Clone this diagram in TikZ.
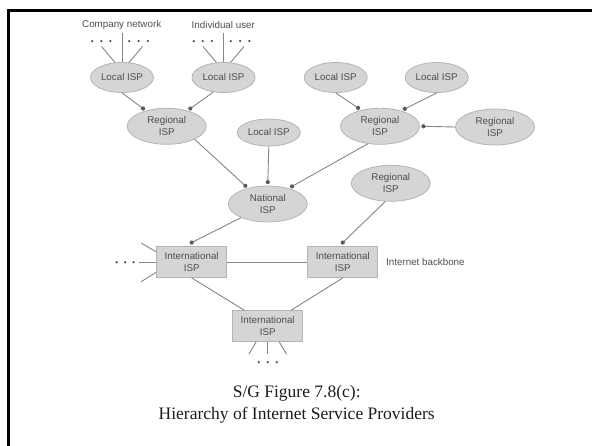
\documentclass[tikz,border=0pt]{standalone}
\usepackage{fontspec}
\setmainfont{Liberation Serif}
\newfontfamily\labelfont{Liberation Sans}
\usetikzlibrary{shapes.geometric,calc}

\definecolor{nodefill}{HTML}{D5D5D5}
\definecolor{nodeedge}{HTML}{B4B4B4}
\definecolor{linkgray}{HTML}{858585}
\definecolor{jointgray}{HTML}{5C5C5C}
\definecolor{labeltext}{HTML}{4E4E4E}
\definecolor{captiontext}{HTML}{1C1C1C}

\begin{document}
\begin{tikzpicture}[x=1pt,y=-1pt,
  lbl/.style={font=\labelfont\fontsize{9.8}{12}\selectfont, text=labeltext},
  isp/.style={ellipse, draw=nodeedge, line width=0.8pt, fill=nodefill,
    minimum width=79pt, minimum height=36pt, inner sep=0pt, align=center, lbl},
  localisp/.style={isp, minimum width=63pt, minimum height=30pt},
  intlisp/.style={rectangle, draw=nodeedge, line width=0.9pt, fill=nodefill,
    minimum width=70pt, minimum height=31pt, inner sep=0pt, align=center, lbl},
  link/.style={draw=linkgray, line width=0.9pt},
  joint/.style={fill=jointgray},
  ellip/.style={fill=labeltext},
  caption/.style={font=\fontsize{17.5}{22}\selectfont, text=captiontext, anchor=base, inner sep=0pt}
  ]
\useasboundingbox (0,0) rectangle (592,446);

% page frame
\draw[line width=3pt, line join=miter] (8,450) -- (8,10.7) -- (596,10.7);

% ---- nodes ----
\node[localisp] (L1) at (122,77.5) {Local ISP};
\node[localisp] (L2) at (223.5,77.5) {Local ISP};
\node[localisp] (L3) at (335.7,77.5) {Local ISP};
\node[localisp] (L4) at (436.7,77.5) {Local ISP};

\node[isp] (R1) at (166.7,126.3) {Regional\\ISP};
\node[localisp, minimum height=27pt] (LM) at (268.8,132.5) {Local ISP};
\node[isp] (R2) at (380,126.3) {Regional\\ISP};
\node[isp] (R3) at (495,127) {Regional\\ISP};

\node[isp] (N) at (267.8,204) {National\\ISP};
\node[isp] (R4) at (390.8,183.3) {Regional\\ISP};

\node[intlisp] (I1) at (191.7,262) {International\\ISP};
\node[intlisp] (I2) at (342.8,262) {International\\ISP};
\node[intlisp, minimum height=30.5pt] (I3) at (267.7,326) {International\\ISP};

\node[lbl, anchor=west, inner sep=0pt] (bb) at (386,262) {Internet backbone};
\node[lbl, inner sep=0pt] (cn) at (121.7,25) {Company network};
\node[lbl, inner sep=0pt] (iu) at (223.3,25) {Individual user};

\node[caption] (cap1) at (296.7,398) {S/G Figure 7.8(c):};
\node[caption] (cap2) at (296.7,420) {Hierarchy of Internet Service Providers};

% ---- attachment points, just outside the lower node ----
\coordinate (j11) at ($(R1.143)!-3.5pt!(R1.center)$);
\coordinate (j12) at ($(R1.37.6)!-3.5pt!(R1.center)$);
\coordinate (j21) at ($(R2.140.3)!-3.5pt!(R2.center)$);
\coordinate (j22) at ($(R2.35)!-3.5pt!(R2.center)$);
\coordinate (j23) at ($(R2.east)!-3.5pt!(R2.center)$);
\coordinate (jn1) at ($(N.141)!-3.5pt!(N.center)$);
\coordinate (jn2) at ($(N.north)!-3.5pt!(N.center)$);
\coordinate (jn3) at ($(N.36)!-3.5pt!(N.center)$);
\coordinate (ji1) at ($(I1.north)!-3.5pt!(I1.center)$);
\coordinate (ji2) at ($(I2.north)!-3.5pt!(I2.center)$);

% ---- connectors ----
\draw[link] (L1.south) -- (j11);
\draw[link] (L2.-125) -- (j12);
\draw[link] (L3.south) -- (j21);
\draw[link] (L4.south) -- (j22);
\draw[link] (R3.west) -- (j23);
\draw[link] (R1.-25) -- (jn1);
\draw[link] (LM.south) -- (jn2);
\draw[link] (R2.-125) -- (jn3);
\draw[link] (N.-153) -- (ji1);
\draw[link] (R4.-107) -- (ji2);
\draw[link] (I1.east) -- (I2.west);
\draw[link] (I1.south) -- (I3.146);
\draw[link] (I2.south) -- (I3.34);

\foreach \j in {j11,j12,j21,j22,j23,jn1,jn2,jn3,ji1,ji2}
  \fill[joint] (\j) circle (2.1pt);

% ---- fan-outs toward further users ----
\foreach \n in {L1,L2}{
  \draw[link] (\n.north) -- ++(0,-29.5);
  \draw[link] (\n.115) -- ++(-13.5,-16);
  \draw[link] (\n.65) -- ++(13.5,-16);
  \foreach \dx in {-29.8,-20.7,-11.6,7.3,16.6,25.9}
    \fill[ellip] ($(\n.north)+(\dx,-21)$) circle (1.25pt);
}

\draw[link] (I1.west) -- ++(-17.5,0);
\draw[link] (I1.164) -- ++(-15,-8.7);
\draw[link] (I1.196) -- ++(-15,9.5);
\foreach \dx in {-39.7,-31.2,-22.7}
  \fill[ellip] ($(I1.west)+(\dx,0.3)$) circle (1.25pt);

\draw[link] (I3.-126) -- ++(-7.5,12.5);
\draw[link] (I3.south) -- ++(0,12.8);
\draw[link] (I3.-54) -- ++(7.5,12.5);
\foreach \dx in {-9,0,9}
  \fill[ellip] ($(I3.south)+(\dx,20.5)$) circle (1.25pt);

\end{tikzpicture}
\end{document}
